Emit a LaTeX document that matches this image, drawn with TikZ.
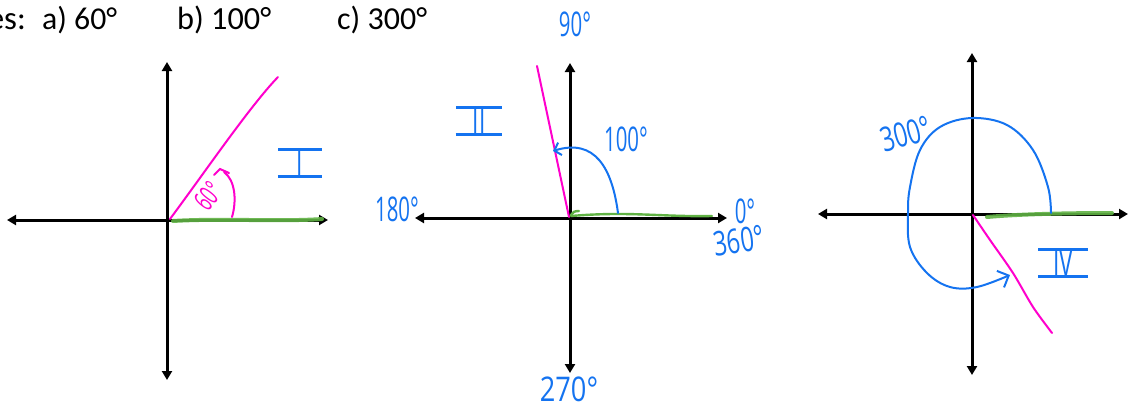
\documentclass[tikz,border=0pt]{standalone}
\usepackage{fontspec}
\usepackage{graphicx}
\setmainfont{Carlito}
\newfontfamily\hwfont{Open Sans}
\usetikzlibrary{arrows.meta}
\definecolor{pinkc}{RGB}{255,0,204}
\definecolor{bluec}{RGB}{20,115,240}
\definecolor{greenc}{RGB}{96,178,68}
\newcommand\hwt[1]{\scalebox{0.6}[1]{#1}}
\tikzset{
  axisline/.style={line width=3pt, arrows={Triangle[length=9pt,width=10pt]-Triangle[length=9pt,width=10pt]}},
  greenline/.style={greenc, line width=4pt, opacity=0.9, line cap=round},
  greenthin/.style={greenc, line width=2.4pt, line cap=round},
  pinkline/.style={pinkc, line width=2pt, line cap=round},
  bluearc/.style={bluec, line width=2pt, line cap=round, line join=round},
  hdr/.style={anchor=base west, inner sep=0pt, font=\fontsize{32}{38}\selectfont},
  hw/.style={inner sep=0pt, text=bluec, font=\hwfont\fontsize{34}{38}\selectfont},
  pinklabel/.style={inner sep=0pt, text=pinkc, font=\hwfont\fontsize{28}{32}\selectfont},
  roman/.style={inner ysep=1pt, text=bluec, font=\hwfont\fontsize{38}{42}\selectfont,
    path picture={\draw[bluec, line width=5pt] (path picture bounding box.north west) -- (path picture bounding box.north east);
                  \draw[bluec, line width=5pt] (path picture bounding box.south west) -- (path picture bounding box.south east);}}
}
\begin{document}
\begin{tikzpicture}[x=1pt,y=-1pt]
\useasboundingbox (0,0) rectangle (1135,405);
% header
\node[hdr, anchor=base east] (h0) at (26,29) {\resizebox{38pt}{!}{es:}};
\node[hdr] (h1) at (42,29) {\resizebox{75pt}{!}{a) 60°}};
\node[hdr] (h2) at (177,29) {\resizebox{94pt}{!}{b) 100°}};
\node[hdr] (h3) at (337,29) {\resizebox{90pt}{!}{c) 300°}};

% ---------- diagram a ----------
\coordinate (aL) at (7,220);
\coordinate (aR) at (328,220);
\coordinate (aT) at (167,62);
\coordinate (aB) at (167,380);
\coordinate (aG0) at (173,221);
\coordinate (aG1) at (322,219);
\coordinate (aP0) at (170,219);
\coordinate (aP1) at (278,77);
\coordinate (aA0) at (232,217);
\coordinate (aA1) at (224,172);
\draw[axisline] (aL) -- (aR);
\draw[axisline] (aT) -- (aB);
\draw[greenline] (aG0) .. controls (220,218) and (280,222) .. (aG1);
\draw[pinkline] (aP0) .. controls (205,172) and (250,106) .. (aP1);
\draw[pinkline] (aA0) .. controls (237,200) and (235,180) .. (aA1);
\draw[pinkline] (214,175) -- (220,169) -- (229,173);
\node[pinklabel, rotate=52] (a60) at (208,196) {\hwt{60°}};
\node[roman, inner xsep=19pt] (q1) at (300,163) {\hwt{I}};

% ---------- diagram b ----------
\coordinate (bL) at (415,218);
\coordinate (bR) at (727,218);
\coordinate (bT) at (570,63);
\coordinate (bB) at (570,373);
\coordinate (bG0) at (571,216);
\coordinate (bG1) at (712,216);
\coordinate (bP0) at (569,217);
\coordinate (bP1) at (537,66);
\coordinate (bA0) at (618,213);
\coordinate (bA1) at (553,151);
\draw[axisline] (bL) -- (bR);
\draw[axisline] (bT) -- (bB);
\draw[greenthin] (bG0) .. controls (630,211) and (660,217) .. (bG1);
\draw[greenthin] (571,215) .. controls (572,212) and (575,211) .. (579,211);
\draw[pinkline] (bP0) -- (bP1);
\draw[bluearc, -{Straight Barb[length=6pt,width=13pt]}] (bA0) .. controls (612,168) and (595,138) .. (bA1);
\node[hw] (b90) at (575,24) {\hwt{90°}};
\node[hw] (b100) at (626,139) {\hwt{100°}};
\node[hw] (b180) at (397,209) {\hwt{180°}};
\node[hw] (b0) at (745,211) {\hwt{0°}};
\node[hw, rotate=8] (b360) at (739,241) {\scalebox{0.7}[1]{360°}};
\node[hw] (b270) at (569,389) {\scalebox{0.8}[1]{270°}};
\node[roman, inner xsep=17pt] (q2) at (479,121) {\hwt{II}};

% ---------- diagram c ----------
\coordinate (cL) at (818,214);
\coordinate (cR) at (1128,214);
\coordinate (cT) at (972,53);
\coordinate (cB) at (972,375);
\coordinate (cG0) at (987,217);
\coordinate (cG1) at (1112,213);
\draw[axisline] (cL) -- (cR);
\draw[axisline] (cT) -- (cB);
\draw[greenline] (cG0) .. controls (1020,214) and (1070,213) .. (cG1);
\draw[pinkline] plot[smooth] coordinates {(973,215) (990,240) (1013,273) (1033,307) (1052,333)};
\draw[bluearc, -{Straight Barb[length=9pt,width=18pt]}] plot[smooth, tension=0.6] coordinates {(1051,213) (1048,187) (1033,150) (1007,125) (972,118) (940,127) (920,150) (910,187) (908,213) (910,247) (927,273) (950,287) (977,287) (1010,275)};
\node[hw, rotate=15] (c300) at (906,134) {\scalebox{0.7}[1]{300°}};
\node[roman, inner xsep=15pt] (q4) at (1063,263) {\hwt{IV}};
\end{tikzpicture}
\end{document}
